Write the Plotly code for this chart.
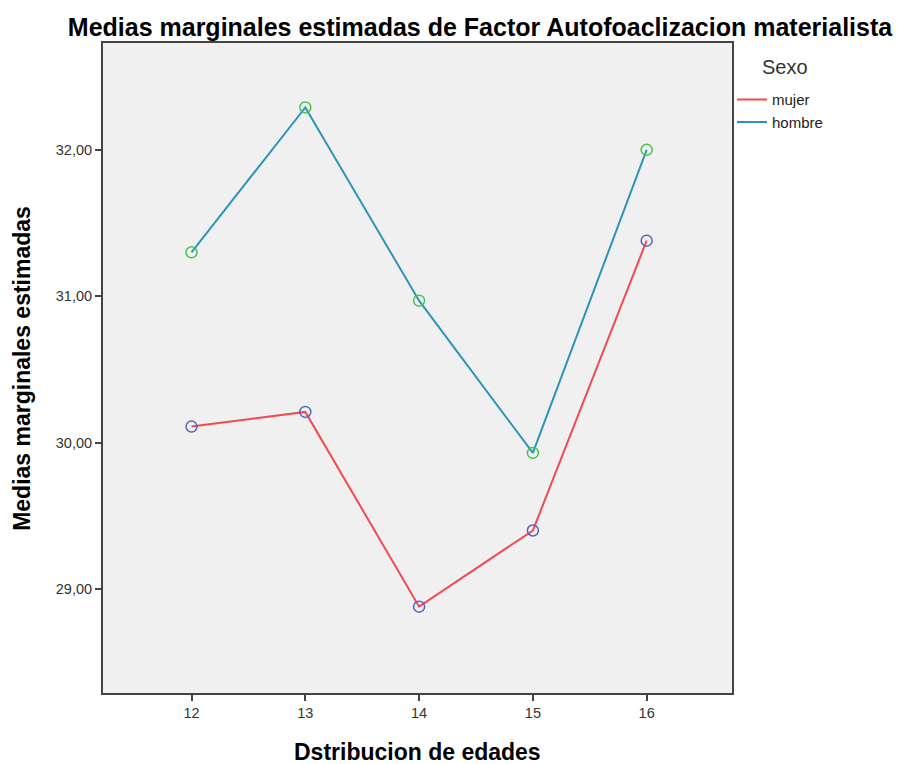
import plotly.graph_objects as go

edades = [12, 13, 14, 15, 16]
mujer = [30.11, 30.21, 28.88, 29.40, 31.38]
hombre = [31.30, 32.29, 30.97, 29.93, 32.00]
ytick_vals = [29, 30, 31, 32]
ytick_text = ["29,00", "30,00", "31,00", "32,00"]

FONT = "Liberation Sans, Arial, sans-serif"
RED = "#f04a50"
BLUE = "#2e94b9"

fig = go.Figure()
fig.add_trace(go.Scatter(x=edades, y=mujer, mode="lines", name="mujer",
                         line=dict(color=RED, width=2)))
fig.add_trace(go.Scatter(x=edades, y=hombre, mode="lines", name="hombre",
                         line=dict(color=BLUE, width=2)))
fig.add_trace(go.Scatter(x=edades, y=mujer, mode="markers", showlegend=False,
                         marker=dict(symbol="circle-open", size=11, color="#5563c1",
                                     line=dict(color="#5563c1", width=1.5))))
fig.add_trace(go.Scatter(x=edades, y=hombre, mode="markers", showlegend=False,
                         marker=dict(symbol="circle-open", size=11, color="#46c44c",
                                     line=dict(color="#46c44c", width=1.5))))

axis_common = dict(showline=True, linecolor="#444444", linewidth=2, mirror=True,
                   showgrid=False, zeroline=False, ticks="outside", ticklen=6,
                   tickwidth=2, tickcolor="#444444",
                   tickfont=dict(family=FONT, size=14.5, color="#333333"))

W, H = 896, 756
fig.update_layout(
    width=W, height=H,
    margin=dict(l=95, r=172, t=35, b=71),
    paper_bgcolor="white", plot_bgcolor="#f0f0f0",
    font=dict(family=FONT),
    title=dict(text="<b>Medias marginales estimadas de Factor Autofoaclizacion materialista</b>",
               x=472 / W, xanchor="center", y=1 - 19 / H, yanchor="middle",
               font=dict(family=FONT, size=25, color="black")),
    xaxis=dict(range=[11.222, 16.75], tickvals=edades,
               ticktext=[str(e) for e in edades], **axis_common),
    yaxis=dict(range=[28.29, 32.73], tickvals=ytick_vals, ticktext=ytick_text,
               **axis_common),
    legend=dict(x=1.0, xanchor="left", y=0.938, yanchor="top",
                font=dict(family=FONT, size=15, color="#222222"),
                bgcolor="rgba(0,0,0,0)", itemwidth=30, tracegroupgap=0),
    showlegend=True,
    annotations=[
        dict(text="<b>Dstribucion de edades</b>", xref="paper", yref="paper",
             x=0.5, y=-0.0908, xanchor="center", yanchor="middle", showarrow=False,
             font=dict(family=FONT, size=23, color="black")),
        dict(text="<b>Medias marginales estimadas</b>", xref="paper", yref="paper",
             x=-0.129, y=0.5, xanchor="center", yanchor="middle", showarrow=False,
             textangle=-90, font=dict(family=FONT, size=23, color="black")),
        dict(text="Sexo", xref="paper", yref="paper",
             x=1.0445, y=0.963, xanchor="left", yanchor="middle", showarrow=False,
             font=dict(family=FONT, size=20, color="#333333")),
    ],
)

fig.write_html("out.html")
